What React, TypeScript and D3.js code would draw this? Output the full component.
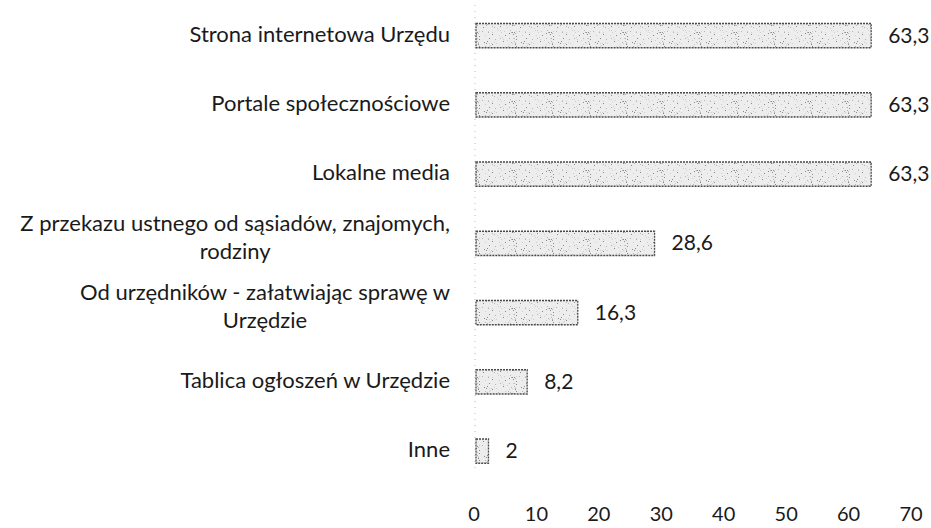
import { useEffect, useRef } from "react";
import * as d3 from "d3";

const categories = [
  "Strona internetowa Urzędu",
  "Portale społecznościowe",
  "Lokalne media",
  "Z przekazu ustnego od sąsiadów, znajomych,|rodziny",
  "Od urzędników - załatwiając sprawę w|Urzędzie",
  "Tablica ogłoszeń w Urzędzie",
  "Inne",
];
const values = [63.3, 63.3, 63.3, 28.6, 16.3, 8.2, 2];
const xTicks = [0, 10, 20, 30, 40, 50, 60, 70];

const W = 931;
const H = 528;
const FONT = "Lato, 'Open Sans', sans-serif";

export default function App() {
  const ref = useRef<SVGSVGElement>(null);

  useEffect(() => {
    const svg = d3.select(ref.current!);
    svg.selectAll("*").remove();

    const x = d3.scaleLinear().domain([0, 70]).range([476, 913]);
    const y = d3
      .scaleBand<number>()
      .domain(d3.range(categories.length))
      .range([1, 485.75])
      .paddingInner(0.65)
      .paddingOuter(0.325);

    /* speckled scan-like fill */
    const defs = svg.append("defs");
    const pat = defs
      .append("pattern")
      .attr("id", "speckle")
      .attr("patternUnits", "userSpaceOnUse")
      .attr("width", 37)
      .attr("height", 23);
    pat.append("rect").attr("width", 37).attr("height", 23).attr("fill", "#ededed");
    const specks: [number, number, number][] = [];
    let s = 7;
    for (let i = 0; i < 70; i++) {
      s = (s * 73 + 41) % 997;
      const px = s % 37;
      s = (s * 73 + 41) % 997;
      const py = s % 23;
      specks.push([px, py, (s % 3) + 1]);
    }
    pat
      .selectAll("rect.sp")
      .data(specks)
      .join("rect")
      .attr("class", "sp")
      .attr("x", (d) => d[0])
      .attr("y", (d) => d[1])
      .attr("width", 1)
      .attr("height", 1)
      .attr("fill", (d) => (d[2] === 1 ? "#8a8a8a" : d[2] === 2 ? "#b5b5b5" : "#cfcfcf"));

    /* faint dotted axis line */
    svg
      .append("line")
      .attr("x1", x(0) - 1)
      .attr("x2", x(0) - 1)
      .attr("y1", 5)
      .attr("y2", 470)
      .attr("stroke", "#b8b8b8")
      .attr("stroke-width", 1)
      .attr("stroke-dasharray", "1,5");

    /* bars */
    svg
      .selectAll("rect.bar")
      .data(values)
      .join("rect")
      .attr("class", "bar")
      .attr("x", x(0))
      .attr("y", (_, i) => y(i)!)
      .attr("width", (d) => x(d) - x(0))
      .attr("height", y.bandwidth())
      .attr("fill", "url(#speckle)")
      .attr("stroke", "#4a4a4a")
      .attr("stroke-width", 1.3)
      .attr("stroke-dasharray", "2,1");

    /* value labels */
    svg
      .selectAll("text.val")
      .data(values)
      .join("text")
      .attr("class", "val")
      .attr("x", (d) => x(d) + 17)
      .attr("y", (_, i) => y(i)! + y.bandwidth() / 2 + 7)
      .attr("font-family", FONT)
      .attr("font-size", 21)
      .attr("fill", "#1a1a1a")
      .text((d) => String(d).replace(".", ","));

    /* category labels (multi-line centred, block right-aligned) */
    const labelRight = 450;
    categories.forEach((c, i) => {
      const lines = c.split("|");
      const n = lines.length;
      const cy = y(i)! + y.bandwidth() / 2;
      const g = svg.append("g");
      const texts = g
        .selectAll("text")
        .data(lines)
        .join("text")
        .attr("x", 0)
        .attr("y", (_, k) => cy + 6 - (n - 1) * 4.5 + (k - (n - 1) / 2) * 28.5)
        .attr("text-anchor", "middle")
        .attr("font-family", FONT)
        .attr("font-size", 22)
        .attr("fill", "#1a1a1a")
        .text((d) => d);
      const maxW = d3.max(texts.nodes(), (t) => (t as SVGTextElement).getComputedTextLength()) || 0;
      g.attr("transform", `translate(${labelRight - maxW / 2},0)`);
    });

    /* x tick labels */
    svg
      .selectAll("text.tick")
      .data(xTicks)
      .join("text")
      .attr("class", "tick")
      .attr("x", (d) => x(d) - 2)
      .attr("y", 521)
      .attr("text-anchor", "middle")
      .attr("font-family", FONT)
      .attr("font-size", 20)
      .attr("fill", "#1a1a1a")
      .text((d) => d);
  }, []);

  return (
    <svg
      ref={ref}
      width={W}
      height={H}
      style={{ position: "absolute", left: 0, top: 0, background: "#fff", display: "block" }}
    />
  );
}
